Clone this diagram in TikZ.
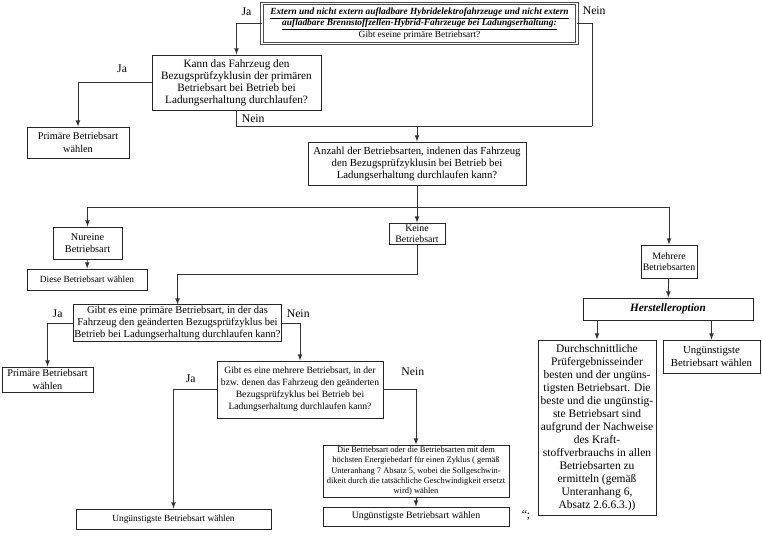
\documentclass[tikz,border=0pt]{standalone}
\usepackage{fontspec}
\setmainfont{Liberation Serif}
\usetikzlibrary{arrows,positioning}

\tikzset{
  box/.style={draw=black!85, line width=0.8pt, fill=white, align=center, inner sep=1pt,
    font=\fontsize{8.8}{10.3}\selectfont},
  arr/.style={-latex, line width=0.8pt, draw=black!80},
  lin/.style={line width=0.8pt, draw=black!80},
  lab/.style={font=\fontsize{10}{11}\selectfont}
}

\begin{document}
\begin{tikzpicture}[x=0.03cm,y=-0.03cm]
\useasboundingbox (0,0) rectangle (762,540);

% top question
\node[box, double, double distance=1.2pt, draw=black!70, minimum width=9.45cm, minimum height=1.2cm,
  font=\fontsize{8}{9.6}\selectfont] (start) at (419.5,23.5)
  {\textbf{\textit{\underline{Extern und nicht extern aufladbare Hybridelektrofahrzeuge und nicht extern}}}\\
   \textbf{\textit{\underline{aufladbare Brennstoffzellen-Hybrid-Fahrzeuge bei Ladungserhaltung:}}}\\
   Gibt eseine primäre Betriebsart?};

\node[box, minimum width=5.07cm, minimum height=1.65cm, font=\fontsize{9.6}{10.3}\selectfont] (kann) at (236.5,82.5)
  {Kann das Fahrzeug den\\Bezugsprüfzyklusin der primären\\Betriebsart bei Betrieb bei\\Ladungserhaltung durchlaufen?};
\node[box, minimum width=3.06cm, minimum height=0.93cm] (prim1) at (78,142.5)
  {Primäre Betriebsart\\wählen};
\node[box, minimum width=6.54cm, minimum height=1.29cm, font=\fontsize{9.2}{10.3}\selectfont] (anzahl) at (417,163.5)
  {Anzahl der Betriebsarten, indenen das Fahrzeug\\den Bezugsprüfzyklusin bei Betrieb bei\\Ladungserhaltung durchlaufen kann?};

% three cases
\node[box, minimum width=2.07cm, minimum height=0.96cm] (nureine) at (87.5,243)
  {Nureine\\Betriebsart};
\node[box, minimum width=3.6cm, minimum height=0.63cm, font=\fontsize{8}{10}\selectfont] (diese) at (87,279.5)
  {Diese Betriebsart wählen};
\node[box, inner sep=0pt, minimum width=1.68cm, minimum height=0.63cm, font=\fontsize{8.4}{9.6}\selectfont] (keine) at (417,233.5)
  {Keine\\Betriebsart};
\node[box, inner sep=0pt, minimum width=1.68cm, minimum height=0.99cm, font=\fontsize{8.4}{10}\selectfont] (mehrere) at (669,261.5)
  {Mehrere\\Betriebsarten};

% Herstelleroption
\node[box, minimum width=5.1cm, minimum height=0.66cm, font=\fontsize{9.6}{10.3}\selectfont] (herst) at (668,309)
  {\textbf{\textit{Herstelleroption}}};
\node[box, minimum width=3.54cm, minimum height=5.25cm, font=\fontsize{9.8}{11.1}\selectfont] (durch) at (597,427.5)
  {Durchschnittliche\\Prüfergebnisseinder\\besten und der ungüns-\\tigsten Betriebsart. Die\\beste und die ungünstig-\\ste Betriebsart sind\\aufgrund der Nachweise\\des Kraft-\\stoffverbrauchs in allen\\Betriebsarten zu\\ermitteln (gemäß\\Unteranhang 6,\\Absatz 2.6.6.3.))};
\node[box, minimum width=2.91cm, minimum height=0.99cm, font=\fontsize{9.2}{10.3}\selectfont] (ung1) at (711.5,356.5)
  {Ungünstigste\\Betriebsart wählen};

% no mode
\node[box, minimum width=5.91cm, minimum height=1.08cm, font=\fontsize{9}{10.3}\selectfont] (gibt1) at (177.5,323)
  {Gibt es eine primäre Betriebsart, in der das\\Fahrzeug den geänderten Bezugsprüfzyklus bei\\Betrieb bei Ladungserhaltung durchlaufen kann?};
\node[box, minimum width=2.73cm, minimum height=0.75cm] (prim2) at (47.5,379.5)
  {Primäre Betriebsart\\wählen};
\node[box, minimum width=4.98cm, minimum height=1.71cm, font=\fontsize{8.2}{10.3}\selectfont] (gibt2) at (300,389.5)
  {Gibt es eine mehrere Betriebsart, in der\\bzw. denen das Fahrzeug den geänderten\\Bezugsprüfzyklus bei Betrieb bei\\Ladungserhaltung durchlaufen kann?};
\node[box, minimum width=5.58cm, minimum height=1.56cm, font=\fontsize{7.2}{8.6}\selectfont] (betr) at (416,471)
  {Die Betriebsart oder die Betriebsarten mit dem\\höchsten Energiebedarf für einen Zyklus ( gemäß\\Unteranhang 7 Absatz 5, wobei die Sollgeschwin-\\dikeit durch die tatsächliche Geschwindigkeit ersetzt\\wird) wählen};
\node[box, minimum width=5.58cm, minimum height=0.57cm, font=\fontsize{8.4}{10}\selectfont] (ung2) at (416,516.5)
  {Ungünstigste Betriebsart wählen};
\node[box, minimum width=5.85cm, minimum height=0.6cm, font=\fontsize{8}{10}\selectfont] (ung3) at (173.5,519)
  {Ungünstigste Betriebsart wählen};
\node[lab] (quote) at (526,515) {“;};

% connectors
\coordinate (nein1) at (592,126);
\coordinate (split) at (417,207);
\draw[arr] (start.west) -| (kann.north) node[lab, pos=0.3, above=3pt] {Ja};
\draw[lin] (start.east) -| (nein1);
\node[lab, anchor=north west] (nein0) at ([xshift=1pt]start.north east) {Nein};
\draw[lin] (kann.south) |- (nein1);
\node[lab, below right=0pt and 1pt] (nein2) at (kann.south) {Nein};
\draw[arr] (anzahl.north |- nein1) -- (anzahl.north);
\draw[arr] (kann.west) -| (prim1.north) node[lab, pos=0.2, above=5pt] {Ja};

\draw[lin] (anzahl.south) -- (split);
\draw[arr] (split) -| (nureine.north);
\draw[arr] (split) -| (mehrere.north);
\draw[arr] (split) -- (keine.north);
\draw[arr] (nureine) -- (diese);
\draw[arr] (mehrere) -- (herst);
\draw[arr] (herst.south -| durch.north) -- (durch.north);
\draw[arr] (herst.south -| ung1.north) -- (ung1.north);

\draw[arr] (keine.south) -- ++(0,30) -| (gibt1.north);
\draw[arr] (gibt1.west) -| (prim2.north) node[lab, pos=0.3, above=1pt] {Ja};
\draw[arr] (gibt1.east) -| (gibt2.north) node[lab, pos=0.45, above=1pt] {Nein};
\draw[arr] (gibt2.west) -| (ung3.north) node[lab, pos=0.3, above=2pt] {Ja};
\draw[arr] (gibt2.east) -| (betr.north) node[lab, pos=0.45, above=8pt] {Nein};
\draw[arr] (betr) -- (ung2);
\end{tikzpicture}
\end{document}
